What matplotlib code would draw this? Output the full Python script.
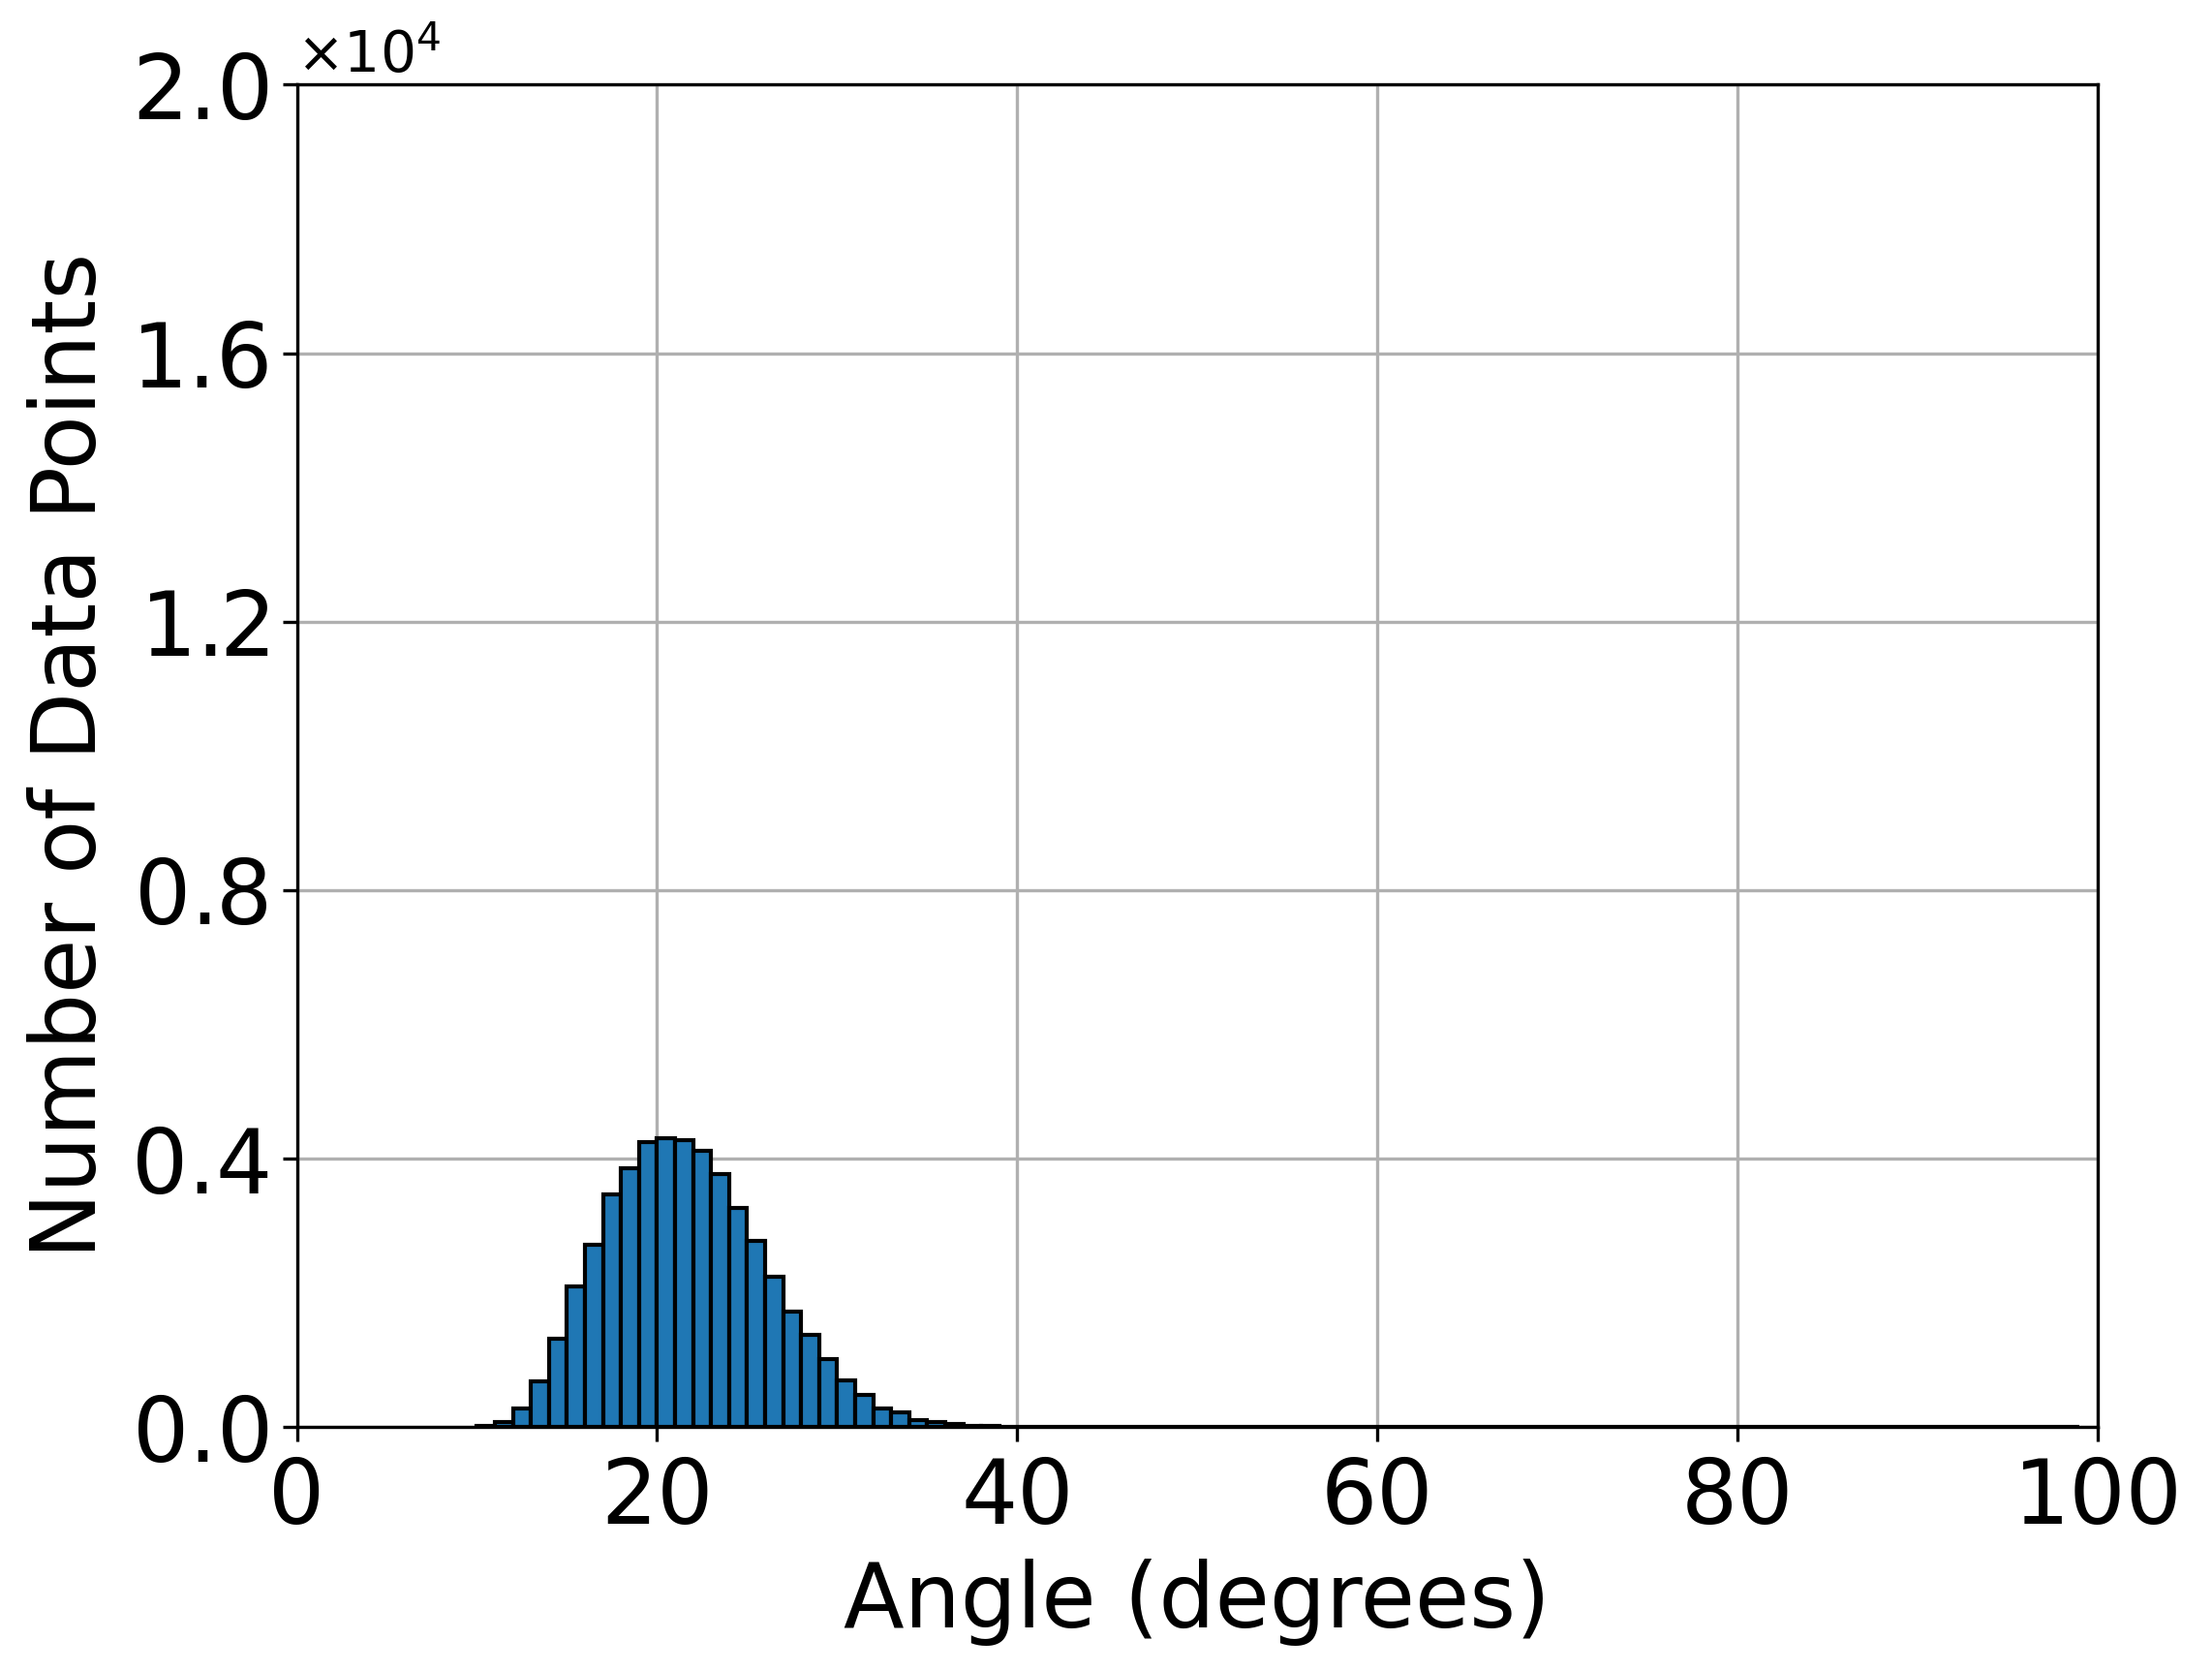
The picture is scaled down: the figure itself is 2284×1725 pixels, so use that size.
import numpy as np
import matplotlib
matplotlib.use("Agg")
import matplotlib.pyplot as plt

# Histogram bin edges (degrees) and counts per bin
bin_edges = list(range(10, 100))
counts = [15, 82, 284, 679, 1314, 2094, 2720, 3470, 3856, 4241,
          4299, 4270, 4116, 3769, 3259, 2768, 2238, 1718, 1372, 1016,
          698, 477, 274, 217, 111, 72, 43, 25, 12, 6,
          4, 10] + [0] * 57

x_ticks = [0, 20, 40, 60, 80, 100]
y_ticks = [0, 4000, 8000, 12000, 16000, 20000]

W, H = 2284, 1725
fig = plt.figure(figsize=(W / 300, H / 300), dpi=300)
ax = fig.add_axes([306.5 / W, 1 - 1473.3 / H, (2166 - 306.5) / W, (1473.3 - 87.3) / H])
ax.hist(bin_edges[:-1], bins=bin_edges, weights=counts,
        color="#1f77b4", edgecolor="black", linewidth=1.0, zorder=2)
ax.set_xlim(0, 100)
ax.set_ylim(0, 20000)
ax.set_xticks(x_ticks)
ax.set_yticks(y_ticks)
ax.ticklabel_format(axis="y", style="sci", scilimits=(0, 0), useMathText=True)
ax.yaxis.get_offset_text().set_fontsize(14)
ax.tick_params(labelsize=22)
ax.set_xlabel("Angle (degrees)", fontsize=22)
ax.set_ylabel("Number of Data Points", fontsize=22)
ax.grid(True, zorder=0)
ax.set_axisbelow(True)
fig.savefig("out.png", dpi=300)
